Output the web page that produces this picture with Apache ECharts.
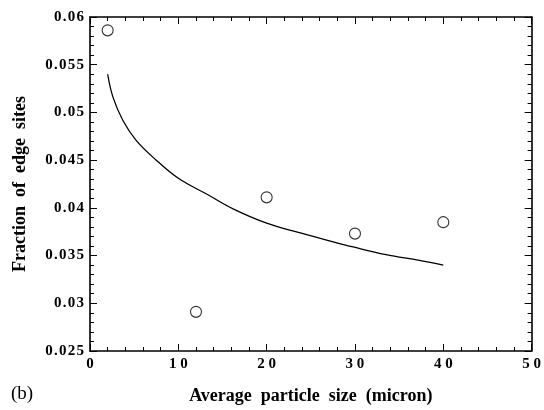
<!DOCTYPE html>
<html>
<head>
<meta charset="utf-8">
<script src="https://cdn.jsdelivr.net/npm/echarts@6/dist/echarts.min.js"></script>
<style>html,body{margin:0;padding:0;background:#fff}#c{width:544px;height:410px}</style>
</head>
<body>
<div id="c"></div>
<script>
// Measured points (open circles)
const pointX = [2, 12, 20, 30, 40];
const pointY = [0.0586, 0.0291, 0.0411, 0.0373, 0.0385];
// Fitted curve
const curveX = [2, 2.6, 3.7, 5.2, 7.5, 10, 13.3, 16.2, 20, 23.7, 26.9, 29.8, 33.5, 37.3, 40];
const curveY = [0.0540, 0.0516, 0.0492, 0.0471, 0.0450, 0.0431, 0.0414, 0.0399, 0.0384, 0.0374, 0.0366, 0.0359, 0.0351, 0.0345, 0.0340];
// Axis ticks
const xTicks = [0, 10, 20, 30, 40, 50];
const yTicks = [0.025, 0.03, 0.035, 0.04, 0.045, 0.05, 0.055, 0.06];

const FONT = '"Liberation Serif", "DejaVu Serif", serif';
const HAIR = '\u200A';
const chart = echarts.init(document.getElementById('c'), null, {renderer: 'canvas'});

const axisCommon = {
  axisLine: {show: true, onZero: false, lineStyle: {color: '#000', width: 1.6}},
  axisTick: {show: true, inside: true, length: 7, lineStyle: {color: '#000', width: 1}},
  minorTick: {show: true, splitNumber: 5, length: 4, lineStyle: {color: '#000', width: 1}},
  splitLine: {show: false}
};

chart.setOption({
  animation: false,
  backgroundColor: '#fff',
  grid: {left: 90, right: 12, top: 17, bottom: 59},
  xAxis: [
    Object.assign({
      type: 'value', min: xTicks[0], max: xTicks[xTicks.length - 1], interval: 10,
      name: 'Average  particle  size  (micron)', nameLocation: 'middle', nameGap: 36,
      nameTextStyle: {fontFamily: FONT, fontWeight: 'bold', fontSize: 18, color: '#000'},
      axisLabel: {fontFamily: FONT, fontWeight: 'bold', fontSize: 15, color: '#000', margin: 6,
        formatter: v => String(v).split('').join(' ')}
    }, axisCommon),
    Object.assign({
      type: 'value', position: 'top', min: 0, max: 50, interval: 10,
      axisLabel: {show: false}
    }, axisCommon)
  ],
  yAxis: [
    Object.assign({
      type: 'value', min: yTicks[0], max: yTicks[yTicks.length - 1], interval: 0.005,
      name: 'Fraction  of  edge  sites', nameLocation: 'middle', nameGap: 61,
      nameTextStyle: {fontFamily: FONT, fontWeight: 'bold', fontSize: 18, color: '#000'},
      axisLabel: {fontFamily: FONT, fontWeight: 'bold', fontSize: 15, color: '#000', margin: 6,
        formatter: v => String(+v.toFixed(3)).split('').join(HAIR)}
    }, axisCommon),
    Object.assign({
      type: 'value', position: 'right', min: 0.025, max: 0.06, interval: 0.005,
      axisLabel: {show: false}
    }, axisCommon)
  ],
  series: [
    {
      type: 'line', smooth: 0.4, showSymbol: false, symbol: 'none',
      data: curveX.map((x, i) => [x, curveY[i]]),
      lineStyle: {color: '#000', width: 1.3}
    },
    {
      type: 'scatter', symbol: 'circle', symbolSize: 11,
      data: pointX.map((x, i) => [x, pointY[i]]),
      itemStyle: {color: '#fff', borderColor: '#000', borderWidth: 1.1}
    }
  ],
  graphic: [
    {type: 'text', left: 11, top: 385,
     style: {text: '(b)', fontFamily: FONT, fontSize: 19, fill: '#000'}}
  ]
});
</script>
</body>
</html>
